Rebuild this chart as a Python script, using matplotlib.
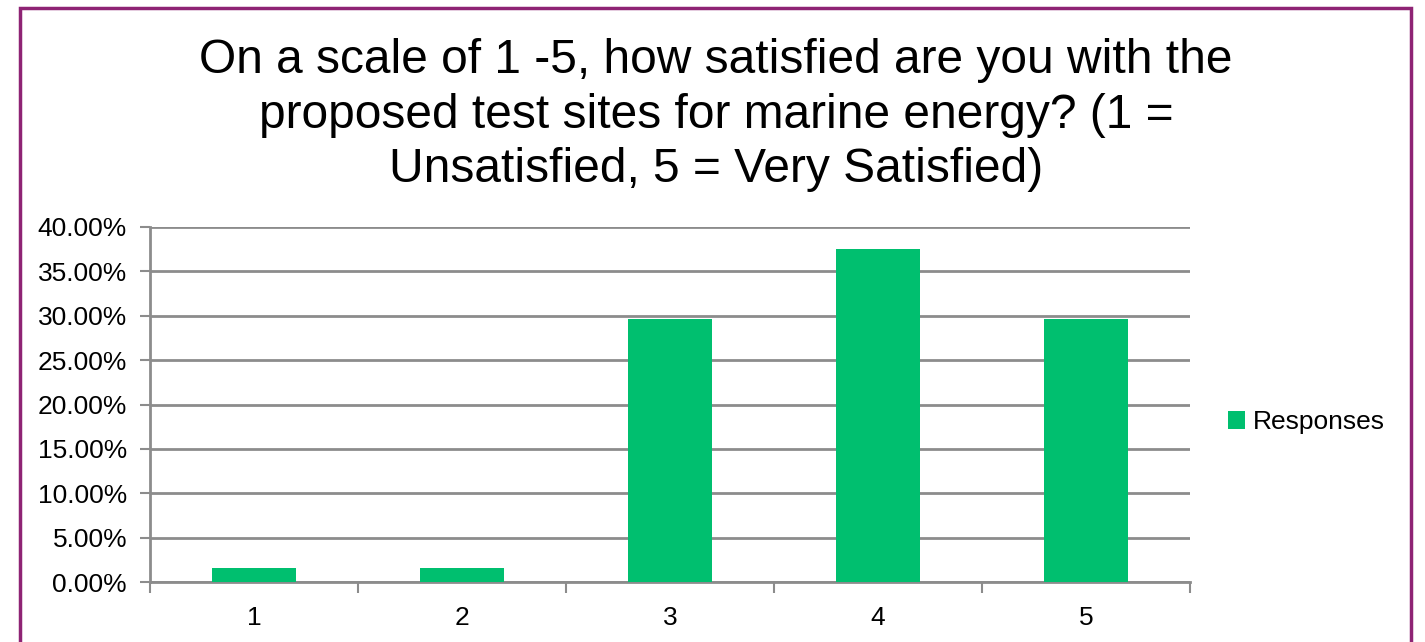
import matplotlib
matplotlib.use("Agg")
import matplotlib.pyplot as plt
from matplotlib.patches import Rectangle
from matplotlib.ticker import FuncFormatter

categories = ["1", "2", "3", "4", "5"]
responses = [1.56, 1.56, 29.69, 37.50, 29.69]
series_name = "Responses"
title = ("On a scale of 1 -5, how satisfied are you with the\n"
         "proposed test sites for marine energy? (1 =\n"
         "Unsatisfied, 5 = Very Satisfied)")

plt.rcParams['font.family'] = ['Liberation Sans', 'DejaVu Sans']

W, H = 1425, 642
fig = plt.figure(figsize=(W / 100, H / 100), dpi=100)
ax = fig.add_axes([150 / W, 1 - 582 / H, (1190 - 150) / W, (582 - 227) / H])

x = list(range(len(categories)))
ax.bar(x, responses, width=0.4, color='#00BF6F', label=series_name, zorder=3)

ax.set_xlim(-0.5, len(categories) - 0.5)
ax.set_ylim(0, 40)
ax.set_yticks([0, 5, 10, 15, 20, 25, 30, 35, 40])
ax.yaxis.set_major_formatter(FuncFormatter(lambda v, p: f"{v:.2f}%"))
ax.set_xticks(x)
ax.set_xticklabels(categories)
ax.set_xticks([i - 0.5 for i in range(len(categories) + 1)], minor=True)
ax.tick_params(axis='x', which='major', length=0, pad=17, labelsize=19)
ax.tick_params(axis='x', which='minor', length=8, width=1.5, color='#8c8c8c', direction='out')
ax.tick_params(axis='y', length=7, width=1.5, color='#8c8c8c', direction='out', pad=9.5, labelsize=19)

ax.grid(axis='y', color='#8c8c8c', linewidth=2, zorder=0)
for s in ['top', 'right']:
    ax.spines[s].set_visible(False)
for s in ['left', 'bottom']:
    ax.spines[s].set_color('#8c8c8c')
    ax.spines[s].set_linewidth(2)

fig.text(716 / W, 1 - 115 / H, title, ha='center', va='center', fontsize=34.5,
         linespacing=1.28)

leg = ax.legend(loc='center left', bbox_to_anchor=(1204 / W, 1 - 422 / H),
                bbox_transform=fig.transFigure, frameon=False, fontsize=19,
                handlelength=0.65, handleheight=0.65, handletextpad=0.3)

fig.patches.append(Rectangle((20 / W, -0.05), (1411 - 20) / W, 1.05 - 8 / H,
                             transform=fig.transFigure, fill=False,
                             edgecolor='#8E2374', linewidth=2.5))

fig.savefig("out.png", dpi=100)
